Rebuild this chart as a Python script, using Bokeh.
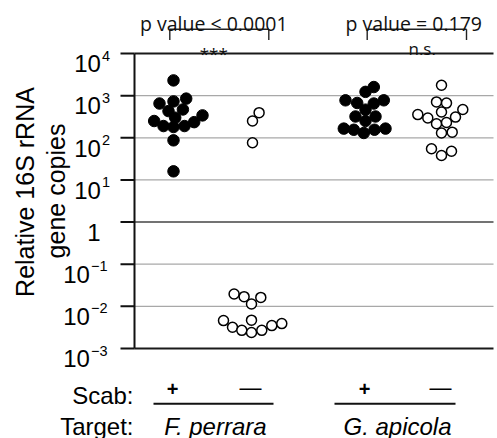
import math
from bokeh.plotting import figure
from bokeh.models import Range1d, Label, LinearScale
from bokeh.embed import file_html
from bokeh.resources import INLINE

# ---------------- data ----------------
tick_values = [1e-3, 1e-2, 1e-1, 1, 1e1, 1e2, 1e3, 1e4]
tick_bases = ["10", "10", "10", "1", "10", "10", "10", "10"]
tick_exps = ["\u22123", "\u22122", "\u22121", "", "1", "2", "3", "4"]
grid_values = [1e-2, 1e-1, 1e1, 1e2, 1e3]

scab_labels = ["+", "\u2014", "+", "\u2014"]
target_labels = ["F. perrara", "G. apicola"]
p_texts = ["p value < 0.0001", "p value = 0.179"]
sig_texts = ["***", "n.s."]

group_x = [39, 117, 231, 307]

# F. perrara, scab +
fp_pos_y = [2300, 650, 730, 850, 430, 470, 300, 250, 190, 180, 190, 235, 340, 87, 16]
fp_pos_dx = [0, -14, 0, 12.7, -5, 9.4, 1.7, -19.3, -10, 0, 11, 20.7, 29, 0, 0]
# F. perrara, scab -
fp_neg_y = [395, 250, 76, 0.0196, 0.017, 0.0114, 0.0163, 0.0046, 0.0032, 0.0027,
            0.0047, 0.0024, 0.0027, 0.0035, 0.0039]
fp_neg_dx = [7.6, 1, 1, -17.4, -7.4, 0, 9.3, -28, -19, -9.7, 0, 0, 10.3, 20.3, 30.3]
# G. apicola, scab +
ga_pos_y = [1600, 1230, 775, 670, 650, 775, 465, 320, 320, 250, 165, 155, 130, 155, 165]
ga_pos_dx = [8.3, 0, -20, -8.3, 8.3, 18.3, 0, -10, 10, 0, -21.7, -11.7, -1.7, 9, 20]
# G. apicola, scab -
ga_neg_y = [1770, 710, 665, 410, 470, 355, 295, 310, 215, 230, 130, 136, 55, 38, 48]
ga_neg_dx = [0, -5, 5, 0, 21.3, -23.7, -13.7, 14, -5, 5, 0, 10.7, -10, 0, 10]

# ---------------- layout (canvas pixels) ----------------
W, H = 497, 438
LEFT, TOP, FRAME_BOTTOM, FRAME_RIGHT = 134, 53, 348, 493
FRAME_H = FRAME_BOTTOM - TOP
FRAME_W = FRAME_RIGHT - LEFT
DEC = FRAME_H / 7.0
Y_TOP = 10 ** (4 + TOP / DEC)
Y_BOT = 10 ** (-3 - (H - FRAME_BOTTOM) / DEC)
FONT = "Liberation Sans"
FONT2 = "Open Sans"


def fig_y(v):
    return TOP + (4 - math.log10(v)) * DEC


p = figure(width=W, height=H, output_backend="svg", toolbar_location=None,
           x_range=Range1d(-LEFT, W - LEFT), y_range=Range1d(Y_BOT, Y_TOP),
           y_axis_type="log", x_axis_location=None, y_axis_location=None,
           min_border=0)
p.extra_y_ranges = {"px": Range1d(H, 0)}
p.extra_y_scales = {"px": LinearScale()}
p.outline_line_color = None
p.grid.visible = False
p.background_fill_color = "white"
p.border_fill_color = "white"


def label(x, y, text, **kw):
    opts = dict(text_font=FONT, text_font_size="24px", text_color="black",
                text_align="center", text_baseline="alphabetic")
    opts.update(kw)
    p.add_layout(Label(x=x - LEFT, y=y, y_range_name="px", text=text, **opts))


# grid lines
p.segment(x0=[0] * len(grid_values), x1=[FRAME_W] * len(grid_values),
          y0=grid_values, y1=grid_values, line_color="#a8a8a8", line_width=1.3)
p.segment(x0=[0], x1=[FRAME_W], y0=[1], y1=[1], line_color="#444444", line_width=1.5)
# top and bottom frame lines
p.segment(x0=[0, 0], x1=[FRAME_W, FRAME_W], y0=[tick_values[-1], tick_values[0]],
          y1=[tick_values[-1], tick_values[0]], line_color="#1a1a1a", line_width=2)
# y axis line and ticks
p.segment(x0=[0], x1=[0], y0=[tick_values[0]], y1=[tick_values[-1]],
          line_color="#111111", line_width=2)
p.segment(x0=[-14] * len(tick_values), x1=[0] * len(tick_values),
          y0=tick_values, y1=tick_values, line_color="#111111", line_width=2)


# points
def xs(g, dx):
    return [group_x[g] + d for d in dx]


p.scatter(xs(0, fp_pos_dx), fp_pos_y, size=11.5, fill_color="black", line_color="black")
p.scatter(xs(1, fp_neg_dx), fp_neg_y, size=10, fill_color="white", line_color="black", line_width=1.5)
p.scatter(xs(2, ga_pos_dx), ga_pos_y, size=11.5, fill_color="black", line_color="black")
p.scatter(xs(3, ga_neg_dx), ga_neg_y, size=10, fill_color="white", line_color="black", line_width=1.5)

# tick labels (base + superscript exponent)
EXP_FS = 14.5
for v, b, e in zip(tick_values, tick_bases, tick_exps):
    y = fig_y(v)
    if e == "":
        label(100, y + 10.3, b, text_align="right")
    else:
        m = e.count("\u2212")
        ew = EXP_FS * (0.556 * (len(e) - m) + 0.584 * m)
        bx = 108.5 - ew - 2.5 * m
        label(bx, y + 10.3, b, text_align="right")
        label(bx + 1, y + 2, e, text_align="left", text_font_size="%.1fpx" % EXP_FS)

# y axis title (two lines, rotated)
label(24, 191.5, "Relative 16S rRNA", angle=math.pi / 2, text_font_size="25px",
      text_baseline="middle")
label(55, 190.5, "gene copies", angle=math.pi / 2, text_font_size="25px",
      text_baseline="middle")

# significance brackets
br = [(169.3, 268.3), (366.7, 466.0)]
bx0, bx1, by0, by1 = [], [], [], []
for (x0, x1) in br:
    bx0 += [x0 - LEFT, x0 - LEFT, x1 - LEFT]
    bx1 += [x1 - LEFT, x0 - LEFT, x1 - LEFT]
    by0 += [28.7, 28.7, 28.7]
    by1 += [28.7, 39.5, 39.5]
p.segment(x0=bx0, x1=bx1, y0=by0, y1=by1, y_range_name="px",
          line_color="#222222", line_width=1.4)
for pt, st, cx_p, cx_s in zip(p_texts, sig_texts, [213.3, 413.3], [213.3, 421.7]):
    label(cx_p, 23.3, pt, text_font=FONT2, text_font_size="19.5px", text_color="#111111")
    label(cx_s, 53 if st == "***" else 48, st, text_font=FONT2, text_font_size="17px",
          text_color="#111111")

# Scab row
label(133, 395, "Scab:", text_align="right")
for g, s in enumerate(scab_labels):
    if s == "+":
        label(LEFT + group_x[g] - 1, 388, s, text_font_size="20px", text_font_style="bold")
    else:
        label(LEFT + group_x[g] - 1, 387, s, text_font_size="22px")

# Target row
p.segment(x0=[153 - LEFT, 334 - LEFT], x1=[273 - LEFT, 455 - LEFT], y0=[403.3, 403.3],
          y1=[403.3, 403.3], y_range_name="px", line_color="#111111", line_width=2)
label(133, 425.5, "Target:", text_align="right")
for cx, t in zip([215, 397], target_labels):
    label(cx, 425.5, t, text_font_style="italic")

open("out.html", "w").write(file_html(p, INLINE))
